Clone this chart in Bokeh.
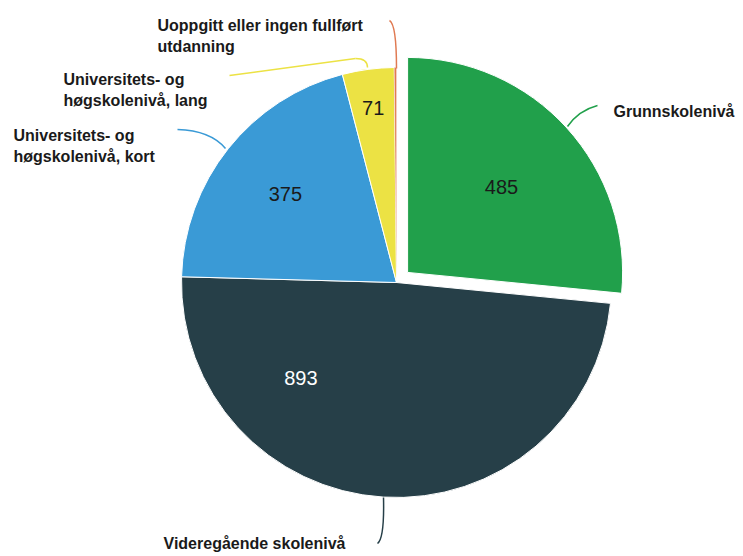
import math
from bokeh.plotting import figure
from bokeh.models import Range1d
from bokeh.core.properties import value
from bokeh.embed import file_html
from bokeh.resources import INLINE

# ---- data ----
categories = ["Grunnskolenivå", "Videregående skolenivå",
              "Universitets- og høgskolenivå, kort",
              "Universitets- og høgskolenivå, lang",
              "Uoppgitt eller ingen fullført utdanning"]
values = [485, 893, 375, 71, 3]
colors = ["#21a04b", "#263f48", "#3a9ad6", "#ece244", "#e07a52"]
value_text_colors = ["#1a1a1a", "#ffffff", "#1a1a1a", "#1a1a1a", None]
label_lines = [["Grunnskolenivå"], ["Videregående skolenivå"],
               ["Universitets- og", "høgskolenivå, kort"],
               ["Universitets- og", "høgskolenivå, lang"],
               ["Uoppgitt eller ingen fullført", "utdanning"]]

W, H = 743, 556
def sx(x): return x
def sy(y): return H - y

p = figure(width=W, height=H, x_range=Range1d(0, W), y_range=Range1d(0, H),
           output_backend="svg", toolbar_location=None, min_border=0)
p.axis.visible = False
p.grid.visible = False
p.outline_line_color = None
p.background_fill_color = "white"
p.border_fill_color = "white"

cx, cy, R = sx(396), sy(282), 215
explode = [15, 0, 0, 0, 0]
label_frac = [0.5, 0.735, 0.5, 0.5, 0.5]
label_r = [0.59, 0.63, 0.66, 0.82, 0.8]

total = sum(values)
cum = 0.0
for i, v in enumerate(values):
    a0 = cum / total * 2 * math.pi
    a1 = (cum + v) / total * 2 * math.pi
    cum += v
    mid = (a0 + a1) / 2
    ox = cx + explode[i] * math.sin(mid)
    oy = cy + explode[i] * math.cos(mid)
    p.wedge(x=[ox], y=[oy], radius=R, radius_units="data",
            start_angle=math.pi / 2 - a0, end_angle=math.pi / 2 - a1,
            direction="clock", fill_color=colors[i],
            line_color="white", line_width=1 if v > 10 else 0.3)
    if value_text_colors[i]:
        la = a0 + label_frac[i] * (a1 - a0)
        lx = ox + label_r[i] * R * math.sin(la)
        ly = oy + label_r[i] * R * math.cos(la)
        p.text(x=[lx], y=[ly], text=[str(v)], text_align="center",
               text_baseline="middle", text_font=value("Liberation Sans"),
               text_font_size="20px", text_color=value_text_colors[i])

# ---- outside labels ----
label_pos = [(613, [110]), (163, [542]), (13, [134, 155]), (63, [78, 99]), (157, [24, 45])]
for i, lines in enumerate(label_lines):
    x0, ys = label_pos[i]
    for line, yy in zip(lines, ys):
        p.text(x=[sx(x0)], y=[sy(yy + 1)], text=[line], text_align="left",
               text_baseline="middle", text_font=value("Liberation Sans"),
               text_font_style="bold", text_font_size="16px",
               text_color="#1a1a1a")

# ---- leader lines ----
def quad(x0, y0, x1, y1, qx, qy, c):
    p.quadratic(x0=[sx(x0)], y0=[sy(y0)], x1=[sx(x1)], y1=[sy(y1)],
                cx=[sx(qx)], cy=[sy(qy)], line_color=c, line_width=1.5)

quad(567, 126, 597, 105, 578, 110, colors[0])
quad(383, 497, 377, 543, 384, 538, colors[1])
quad(225, 148, 177, 129, 210, 130, colors[2])
quad(367, 67, 355, 58, 367, 58, colors[3])
p.line(x=[sx(355), sx(229)], y=[sy(58), sy(75)], line_color=colors[3], line_width=1.5)
quad(396, 68, 389, 20, 396, 24, colors[4])

open("out.html", "w").write(file_html(p, INLINE))
